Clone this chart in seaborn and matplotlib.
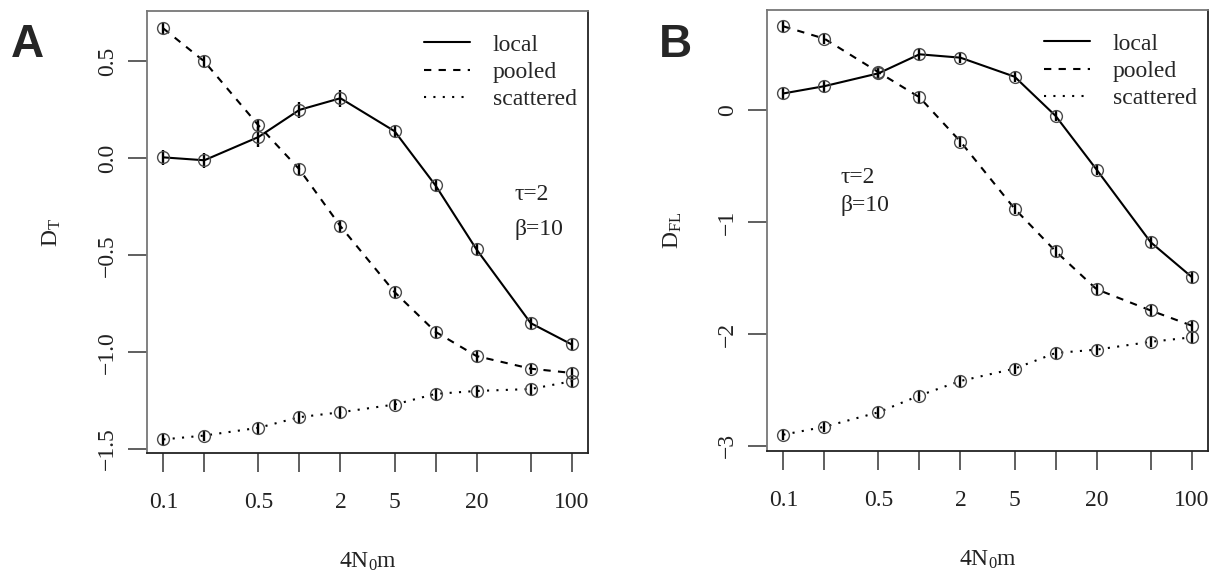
import numpy as np
import pandas as pd
import matplotlib
matplotlib.use("Agg")
import matplotlib.pyplot as plt
import seaborn as sns
from matplotlib.lines import Line2D

# Scaled migration rate 4N0m (log axis)
migration = [0.1, 0.2, 0.5, 1, 2, 5, 10, 20, 50, 100]
x_tick_labels = ["0.1", "", "0.5", "", "2", "5", "", "20", "", "100"]
schemes = ["local", "pooled", "scattered"]

# Tajima's D (panel A)
dt_local = [0.005, -0.01, 0.11, 0.25, 0.31, 0.14, -0.14, -0.47, -0.85, -0.96]
dt_pooled = [0.67, 0.50, 0.17, -0.057, -0.35, -0.69, -0.895, -1.02, -1.085, -1.107]
dt_scattered = [-1.45, -1.43, -1.39, -1.335, -1.31, -1.27, -1.215, -1.20, -1.19, -1.15]
dt_local_err = [0.04, 0.04, 0.05, 0.04, 0.045, 0.03, 0.03, 0.03, 0.03, 0.03]
dt_pooled_err = [0.03] * 10
dt_scattered_err = [0.03] * 10

# Fu and Li's D (panel B)
dfl_local = [0.15, 0.215, 0.33, 0.50, 0.47, 0.30, -0.05, -0.53, -1.18, -1.49]
dfl_pooled = [0.75, 0.64, 0.34, 0.116, -0.28, -0.88, -1.26, -1.60, -1.79, -1.925]
dfl_scattered = [-2.90, -2.83, -2.70, -2.55, -2.42, -2.31, -2.17, -2.14, -2.07, -2.03]
dfl_local_err = [0.05] * 10
dfl_pooled_err = [0.05] * 10
dfl_scattered_err = [0.05] * 10

yticks_a = [-1.5, -1.0, -0.5, 0.0, 0.5]
ytick_labels_a = ["\u22121.5", "\u22121.0", "\u22120.5", "0.0", "0.5"]
yticks_b = [-3, -2, -1, 0]
ytick_labels_b = ["\u22123", "\u22122", "\u22121", "0"]


def long_frame(stat, series, errs):
    rows = []
    for scheme, vals, err in zip(schemes, series, errs):
        for m, v, e in zip(migration, vals, err):
            rows.append({"stat": stat, "scheme": scheme, "migration": m,
                         "value": v, "err": e})
    return pd.DataFrame(rows)


df = pd.concat([
    long_frame("DT", [dt_local, dt_pooled, dt_scattered],
               [dt_local_err, dt_pooled_err, dt_scattered_err]),
    long_frame("DFL", [dfl_local, dfl_pooled, dfl_scattered],
               [dfl_local_err, dfl_pooled_err, dfl_scattered_err]),
], ignore_index=True)

sns.set_style("ticks")
plt.rcParams["font.family"] = ["Liberation Serif", "DejaVu Serif"]
plt.rcParams["mathtext.fontset"] = "custom"
plt.rcParams["mathtext.rm"] = "Liberation Serif"
plt.rcParams["mathtext.it"] = "Liberation Serif:italic"

FS = 17
LW = 1.5
dash_map = {"local": "", "pooled": (3.5, 3.5), "scattered": (1, 3.5)}

fig = plt.figure(figsize=(12.23, 5.73), dpi=100)
ax_a = fig.add_axes([147 / 1223, 1 - 453 / 573, 441 / 1223, 442 / 573])
ax_b = fig.add_axes([767 / 1223, 1 - 451 / 573, 441 / 1223, 441 / 573])

panels = [
    (ax_a, "DT", "D$_\\mathrm{T}$", (-1.52, 0.76), yticks_a, ytick_labels_a,
     (0.834, 0.584), (0.834, 0.505)),
    (ax_b, "DFL", "D$_\\mathrm{FL}$", (-3.046, 0.896), yticks_b, ytick_labels_b,
     (0.166, 0.621), (0.166, 0.556)),
]

for ax, stat, ylab, ylim, yt, ytl, tau_pos, beta_pos in panels:
    sub = df[df["stat"] == stat]
    sns.lineplot(data=sub, x="migration", y="value", style="scheme",
                 style_order=schemes, dashes=dash_map, color="black",
                 linewidth=LW, estimator=None, legend=False, ax=ax)
    for scheme in schemes:
        s = sub[sub["scheme"] == scheme]
        ax.errorbar(s["migration"], s["value"], yerr=s["err"], fmt="none",
                    ecolor="black", elinewidth=1.7, capsize=0, zorder=3)
        ax.plot(s["migration"], s["value"], linestyle="none", marker="o",
                markersize=8.5, markerfacecolor="none",
                markeredgecolor="#4a4a4a", markeredgewidth=1.0, zorder=4)

    ax.set_xscale("log")
    ax.set_xlim(10 ** -1.12, 10 ** 2.12)
    ax.set_ylim(*ylim)
    ax.set_xticks(migration)
    ax.set_xticklabels(x_tick_labels)
    ax.xaxis.set_minor_locator(matplotlib.ticker.NullLocator())
    ax.set_yticks(yt)
    ax.set_yticklabels(ytl)
    for lab in ax.get_yticklabels():
        lab.set_rotation(90)
        lab.set_va("center")
    ax.tick_params(axis="both", direction="out", length=14, width=1.2,
                   color="#444444", labelsize=FS, labelcolor="#222222")
    ax.tick_params(axis="x", pad=14)
    ax.tick_params(axis="y", pad=7)

    for side in ["left", "top"]:
        ax.spines[side].set_color("#777777")
    for side in ["right", "bottom"]:
        ax.spines[side].set_color("#222222")
    for sp in ax.spines.values():
        sp.set_visible(True)
        sp.set_linewidth(1.3)

    ax.set_xlabel("4N$_\\mathrm{0}$m", fontsize=FS, labelpad=27, color="#222222")
    ax.set_ylabel(ylab, fontsize=FS, labelpad=24, color="#222222")

    ax.text(*tau_pos, "\u03c4=2", transform=ax.transAxes, fontsize=FS,
            va="center", ha="left", color="#222222")
    ax.text(*beta_pos, "\u03b2=10", transform=ax.transAxes, fontsize=FS,
            va="center", ha="left", color="#222222")

    handles = [Line2D([], [], color="black", linewidth=LW, linestyle="-"),
               Line2D([], [], color="black", linewidth=LW, dashes=(3.5, 3.5)),
               Line2D([], [], color="black", linewidth=LW, dashes=(1, 3.5))]
    ax.legend(handles, schemes, loc="upper right", frameon=False,
              fontsize=FS, handlelength=1.95, handletextpad=0.95,
              labelspacing=0.24, borderaxespad=0.3,
              bbox_to_anchor=(1.012, 0.985))

fig.text(27 / 1223, 1 - 45 / 573, "A", fontsize=33, fontweight="bold",
         family="Liberation Sans", ha="center", va="center")
fig.text(675 / 1223, 1 - 45 / 573, "B", fontsize=33, fontweight="bold",
         family="Liberation Sans", ha="center", va="center")

fig.savefig("out.png", dpi=100)
